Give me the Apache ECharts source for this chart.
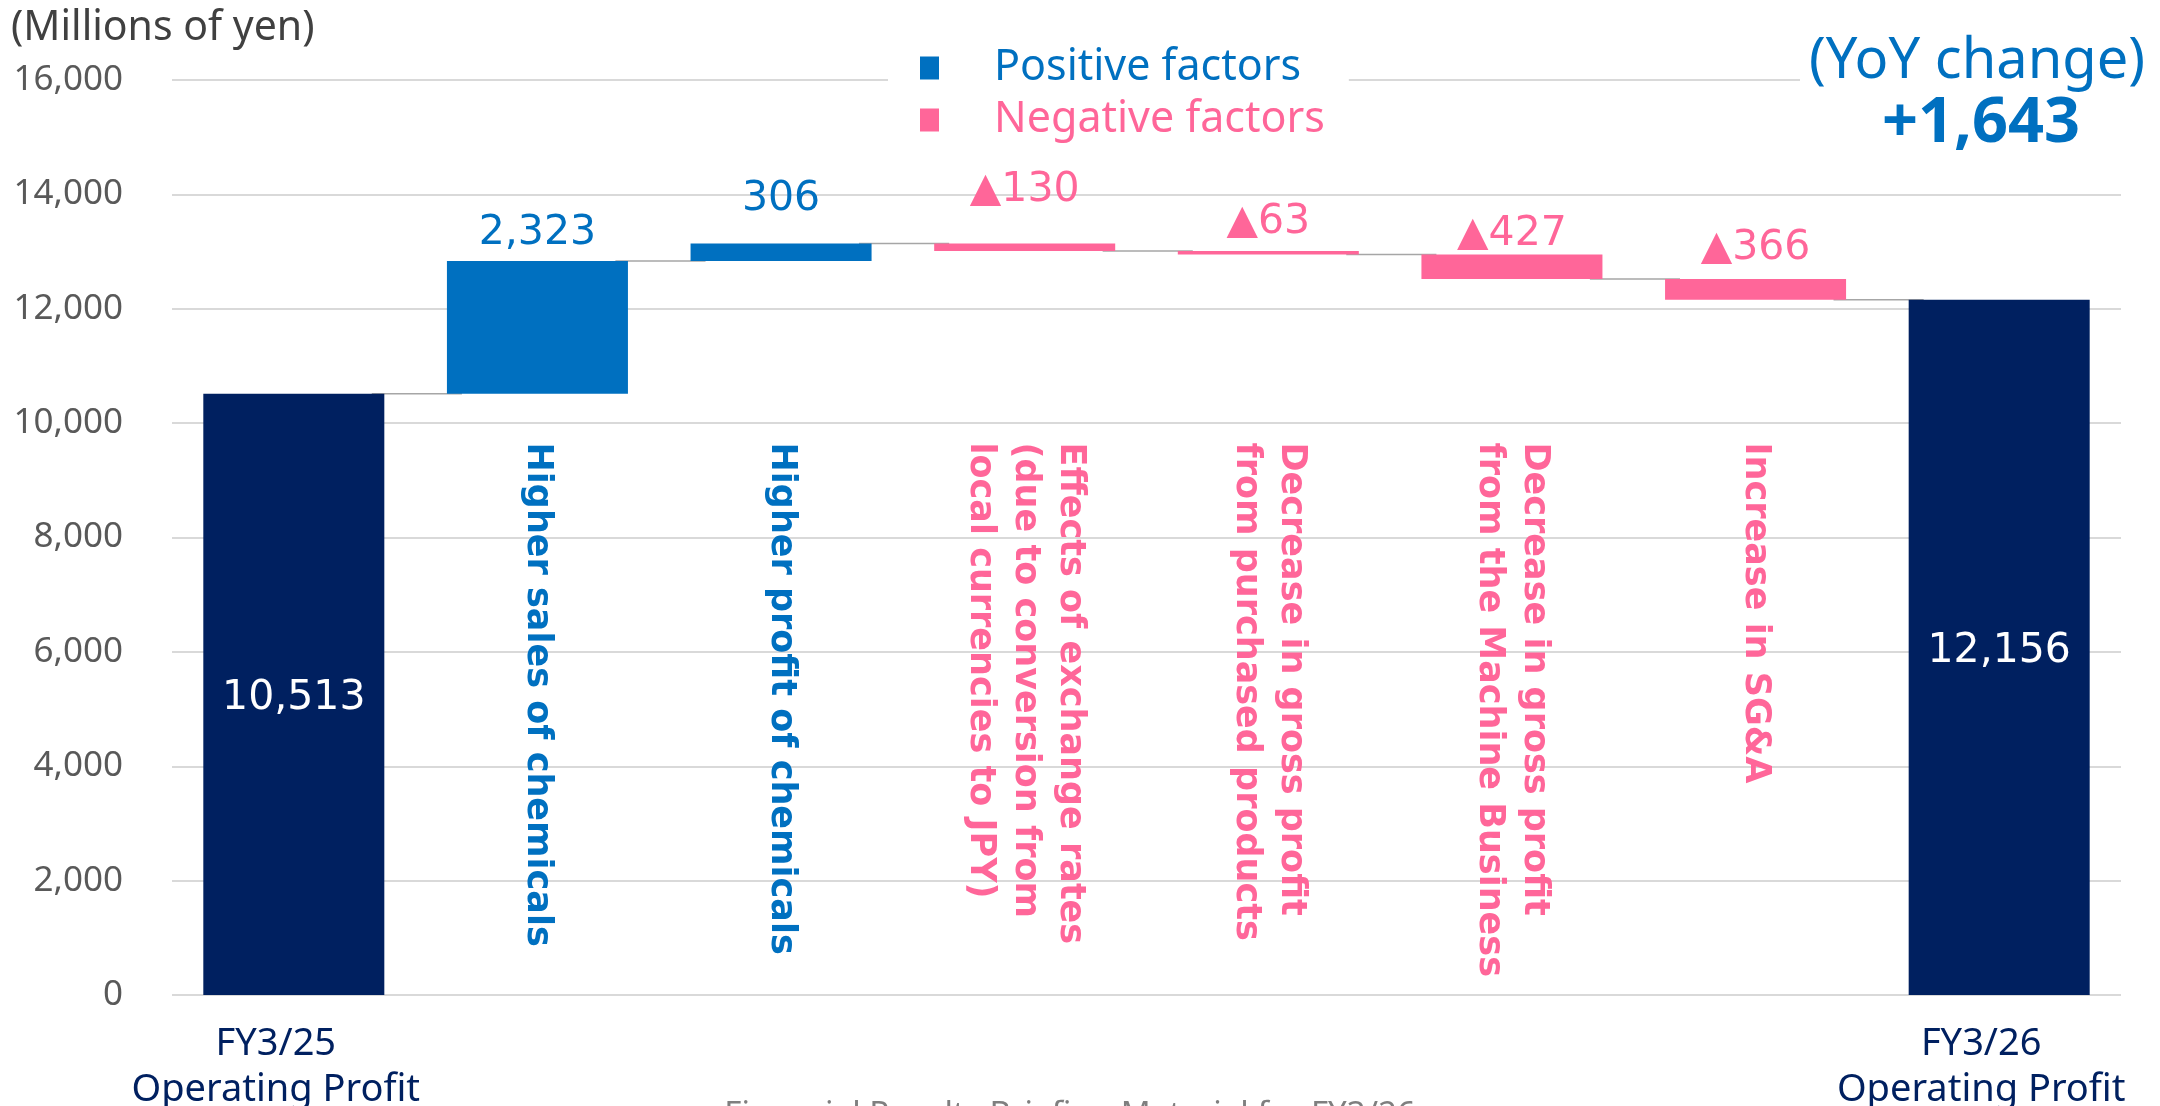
<!DOCTYPE html>
<html>
<head>
<meta charset="utf-8">
<title>Operating profit bridge</title>
<script src="https://cdn.jsdelivr.net/npm/echarts@6/dist/echarts.min.js"></script>
<style>
  html, body { margin: 0; padding: 0; background: #fff; }
  #chart { width: 2160px; height: 1106px; }
</style>
</head>
<body>
<div id="chart"></div>
<script>
// data
const categories = [
  'FY3/25\nOperating Profit',
  'Higher sales of chemicals',
  'Higher profit of chemicals',
  'Effects of exchange rates\n(due to conversion from\nlocal currencies to JPY)',
  'Decrease in gross profit\nfrom purchased products',
  'Decrease in gross profit\nfrom the Machine Business',
  'Increase in SG&A',
  'FY3/26\nOperating Profit'
]
const startProfit = 10513
const endProfit = 12156
const factorChanges = [null, 2323, 306, -130, -63, -427, -366, null]
const yoyChange = 1643
const yTicks = [0, 2000, 4000, 6000, 8000, 10000, 12000, 14000, 16000]

const NAVY = '#002060'
const BLUE = '#0070C0'
const PINK = '#FF6699'
const fmt = v => v.toLocaleString('en-US')

// waterfall pieces built from the arrays above
let running = startProfit
const baseData = [], totalData = [], posData = [], negData = [], levels = []
categories.forEach((c, i) => {
  const d = factorChanges[i]
  if (d === null) {
    baseData.push('-'); posData.push('-'); negData.push('-')
    totalData.push(i === 0 ? startProfit : endProfit)
    if (i === 0) levels.push([i, startProfit])
    return
  }
  totalData.push('-')
  if (d >= 0) {
    baseData.push(running); posData.push(d); negData.push('-')
  } else {
    baseData.push(running + d); posData.push('-'); negData.push(-d)
  }
  running += d
  levels.push([i, running])
})

// how far each value label sits above its bar (px)
const labelLift = [0, 7, 24, 33, 8, 0, 10, 0]

const chart = echarts.init(document.getElementById('chart'))
chart.setOption({
  animation: false,
  title: {
    text: '(Millions of yen)',
    left: 11, top: 8, padding: 0,
    textStyle: { color: '#404040', fontSize: 41, fontWeight: 'normal', fontFamily: 'Noto Sans' }
  },
  legend: {
    orient: 'vertical',
    left: 888, top: 40,
    padding: [6, 24, 6, 32],
    backgroundColor: '#fff',
    icon: 'rect',
    itemWidth: 19, itemHeight: 23, itemGap: 8,
    selectedMode: false,
    textStyle: { fontSize: 43, lineHeight: 44, fontFamily: 'Noto Sans', padding: [0, 0, 0, 50] },
    data: [
      { name: 'Positive factors', textStyle: { color: BLUE } },
      { name: 'Negative factors', textStyle: { color: PINK } }
    ]
  },
  grid: { left: 172, right: 39, top: 80, bottom: 111, containLabel: false, outerBoundsMode: 'none' },
  xAxis: {
    type: 'category',
    data: categories,
    axisLine: { show: false },
    axisTick: { show: false },
    axisLabel: {
      interval: 0,
      margin: 26,
      color: NAVY,
      fontSize: 38, lineHeight: 46, fontFamily: 'Noto Sans',
      padding: [0, 36, 0, 0],
      formatter: (v, i) => (factorChanges[i] === null ? v : '')
    }
  },
  yAxis: {
    type: 'value',
    min: yTicks[0], max: yTicks[yTicks.length - 1], interval: 2000,
    axisLine: { show: false },
    axisTick: { show: false },
    axisLabel: { color: '#595959', fontSize: 35, fontFamily: 'Noto Sans', margin: 49, formatter: v => fmt(v) },
    splitLine: { lineStyle: { color: '#D9D9D9', width: 2 } }
  },
  series: [
    {
      name: 'base', type: 'bar', stack: 'wf', barWidth: '74.3%',
      itemStyle: { color: 'transparent' },
      emphasis: { disabled: true },
      data: baseData
    },
    {
      name: 'Operating profit', type: 'bar', stack: 'wf', barWidth: '74.3%',
      itemStyle: { color: NAVY },
      label: {
        show: true, position: 'inside', offset: [0, 4], color: '#fff',
        fontSize: 41, fontFamily: 'DejaVu Sans',
        formatter: p => fmt(p.value)
      },
      data: totalData
    },
    {
      name: 'Positive factors', type: 'bar', stack: 'wf', barWidth: '74.3%',
      itemStyle: { color: BLUE },
      data: posData.map((v, i) => v === '-' ? v : {
        value: v,
        label: {
          show: true, position: 'top', distance: labelLift[i], color: BLUE,
          fontSize: 41, fontFamily: 'DejaVu Sans', formatter: p => fmt(p.value)
        }
      })
    },
    {
      name: 'Negative factors', type: 'bar', stack: 'wf', barWidth: '74.3%',
      itemStyle: { color: PINK },
      data: negData.map((v, i) => v === '-' ? v : {
        value: v,
        label: {
          show: true, position: 'top', distance: labelLift[i], color: PINK,
          fontSize: 41, fontFamily: 'DejaVu Sans', formatter: p => '▲' + fmt(p.value)
        }
      })
    },
    {
      // thin connectors between consecutive bars
      name: 'connectors', type: 'custom', silent: true,
      renderItem: (params, api) => {
        const i = api.value(0)
        const v = api.value(1)
        const a = api.coord([i, v])
        const b = api.coord([i + 1, v])
        const band = api.size([1, 0])[0]
        return {
          type: 'line',
          shape: { x1: a[0] + band * 0.32, y1: a[1], x2: b[0] - band * 0.31, y2: a[1] },
          style: { stroke: '#A6A6A6', lineWidth: 1.5 }
        }
      },
      data: levels
    },
    {
      // vertical factor names inside the plot
      name: 'factor names', type: 'custom', silent: true,
      renderItem: (params, api) => {
        const i = api.value(0)
        const p = api.coord([i, 9660])
        return {
          type: 'text',
          x: p[0], y: p[1],
          rotation: -Math.PI / 2,
          style: {
            text: categories[i],
            fill: factorChanges[i] >= 0 ? BLUE : PINK,
            fontSize: 35, fontWeight: 'bold', fontFamily: 'DejaVu Sans',
            lineHeight: 45,
            align: 'left', verticalAlign: 'middle'
          }
        }
      },
      data: factorChanges.map((d, i) => [i, 0]).filter(r => factorChanges[r[0]] !== null)
    }
  ],
  graphic: [
    {
      type: 'rect', z: 100,
      shape: { x: 1800, y: 28, width: 360, height: 125 },
      style: { fill: '#fff' }
    },
    {
      type: 'text', z: 101, x: 1977, y: 62,
      style: {
        text: '(YoY change)', fill: BLUE, fontSize: 56, fontFamily: 'Noto Sans',
        align: 'center', verticalAlign: 'middle'
      }
    },
    {
      type: 'text', z: 101, x: 1981, y: 124,
      style: {
        text: '+' + fmt(yoyChange), fill: BLUE, fontSize: 63, fontWeight: 'bold', fontFamily: 'Noto Sans',
        align: 'center', verticalAlign: 'middle'
      }
    },
    {
      type: 'text', z: 101, x: 1070, y: 1116,
      style: {
        text: 'Financial Results Briefing Material for FY3/26', fill: '#7F7F7F',
        fontSize: 33, fontFamily: 'Noto Sans', align: 'center', verticalAlign: 'middle'
      }
    }
  ]
})
</script>
</body>
</html>
